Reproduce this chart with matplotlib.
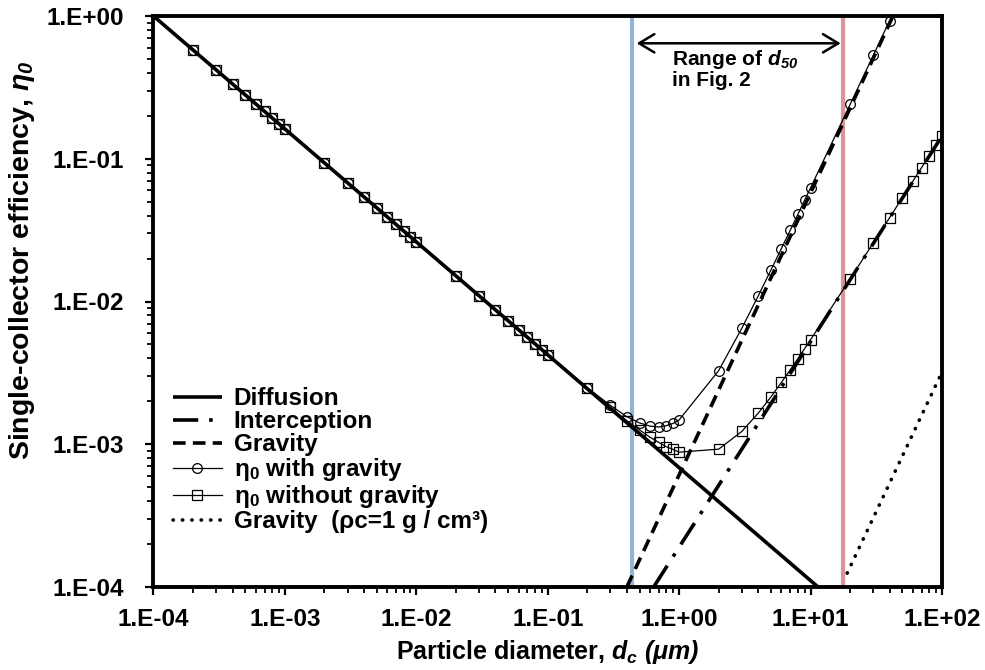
import numpy as np
import matplotlib
matplotlib.use("Agg")
import matplotlib.pyplot as plt
from matplotlib.ticker import FuncFormatter, NullFormatter, FixedLocator


# particle diameters of the eta_0 series [um]
diam = [2e-4, 3e-4, 4e-4, 5e-4, 6e-4, 7e-4, 8e-4, 9e-4,
        1e-3, 2e-3, 3e-3, 4e-3, 5e-3, 6e-3, 7e-3, 8e-3, 9e-3,
        1e-2, 2e-2, 3e-2, 4e-2, 5e-2, 6e-2, 7e-2, 8e-2, 9e-2,
        0.1, 0.2, 0.3, 0.4, 0.5, 0.6, 0.7, 0.8, 0.9,
        1, 2, 3, 4, 5, 6, 7, 8, 9,
        10, 20, 30, 40, 50, 60, 70, 80, 90, 100]

eta_with = [0.578, 0.420, 0.334, 0.280, 0.242, 0.215, 0.193, 0.176,
            0.162, 0.0935, 0.0680, 0.0540, 0.0453, 0.0392, 0.0348, 0.0312, 0.0285,
            0.0262, 0.0151, 0.0110, 0.00874, 0.00733, 0.00634, 0.00563, 0.00505, 0.00461,
            0.00425, 0.00249, 0.00187, 0.00156, 0.00141, 0.00134, 0.00132, 0.00135, 0.00140,
            0.00148, 0.00328, 0.00650, 0.01095, 0.01665, 0.0235, 0.0315, 0.0407, 0.0511,
            0.0626, 0.240, 0.529, 0.929, 1.39]

eta_without = [0.578, 0.420, 0.334, 0.280, 0.242, 0.215, 0.193, 0.176,
               0.162, 0.0935, 0.0680, 0.0540, 0.0453, 0.0392, 0.0348, 0.0312, 0.0285,
               0.0262, 0.0151, 0.0110, 0.00874, 0.00733, 0.00634, 0.00563, 0.00505, 0.00461,
               0.00425, 0.00247, 0.00181, 0.00146, 0.00126, 0.00112, 0.00103, 0.00096, 0.00092,
               0.00088, 0.000924, 0.00123, 0.00165, 0.00215, 0.00271, 0.00332, 0.00397, 0.00467,
               0.00539, 0.0144, 0.0257, 0.0387, 0.0534, 0.0694, 0.0868, 0.1045, 0.124, 0.144]

# straight mechanism lines (end points)
diff_x, diff_y = [1e-4, 11.4], [1.0, 1e-4]
inter_x, inter_y = [0.64, 100], [1e-4, 0.144]
grav_x, grav_y = [0.40, 42.4], [1e-4, 1.0]
grav1_x, grav1_y = [19, 100], [1.25e-4, 3.2e-3]

# range of d50 in Fig. 2
range_lo, range_hi = 0.44, 17.8

x_decades = [1e-4, 1e-3, 1e-2, 1e-1, 1e0, 1e1, 1e2]
y_decades = [1e-4, 1e-3, 1e-2, 1e-1, 1e0]


plt.rcParams["font.family"] = ["Liberation Sans", "DejaVu Sans"]
plt.rcParams["font.weight"] = "bold"
plt.rcParams["axes.labelweight"] = "bold"
plt.rcParams["mathtext.fontset"] = "custom"
plt.rcParams["mathtext.rm"] = "Liberation Sans:bold"
plt.rcParams["mathtext.it"] = "Liberation Sans:italic:bold"
plt.rcParams["mathtext.sf"] = "Liberation Sans:italic:bold"
plt.rcParams["mathtext.bf"] = "Liberation Sans:bold"
plt.rcParams["mathtext.default"] = "rm"

fig = plt.figure(figsize=(9.85, 6.7), dpi=100)
ax = fig.add_axes([0.1558, 0.1239, 0.8005, 0.8522])

ax.axvline(range_lo, color="#95B3D7", lw=3, zorder=1)
ax.axvline(range_hi, color="#D99694", lw=3, zorder=1)

ax.plot(diff_x, diff_y, color="black", lw=2.6, solid_capstyle="butt", label="Diffusion", zorder=3)
ax.plot(inter_x, inter_y, color="black", lw=2.6, dashes=(7, 3, 1, 3), label="Interception", zorder=3)
ax.plot(grav_x, grav_y, color="black", lw=2.6, dashes=(3.5, 2), label="Gravity", zorder=3)
ax.plot(diam[:len(eta_with)], eta_with, color="black", lw=0.9, marker="o", ms=7,
        mfc="none", mec="black", mew=0.9, label="η$_0$ with gravity", zorder=4)
ax.plot(diam, eta_without, color="black", lw=0.9, marker="s", ms=7,
        mfc="none", mec="black", mew=0.9, label="η$_0$ without gravity", zorder=4)
ax.plot(grav1_x, grav1_y, color="black", lw=2.6, linestyle=(0, (0.1, 2.5)),
        dash_capstyle="round", label="Gravity  (ρc=1 g / cm³)", zorder=3)

ax.annotate("", xy=(range_hi / 1.05, 0.644), xytext=(range_lo * 1.08, 0.644),
            arrowprops=dict(arrowstyle="<->,head_length=0.55,head_width=0.33",
                            lw=1.8, color="black", shrinkA=0, shrinkB=0,
                            mutation_scale=20))
ax.text(0.88, 0.595, "Range of $\\mathsf{d}_\\mathsf{50}$\nin Fig. 2", fontsize=15,
        ha="left", va="top", linespacing=1.0)

ax.set_xscale("log")
ax.set_yscale("log")
ax.set_xlim(1e-4, 1e2)
ax.set_ylim(1e-4, 1)

fmt = FuncFormatter(lambda v, p: f"1.E{int(np.round(np.log10(v))):+03d}")
ax.xaxis.set_major_locator(FixedLocator(x_decades))
ax.yaxis.set_major_locator(FixedLocator(y_decades))
ax.xaxis.set_minor_locator(FixedLocator([d * k for d in x_decades[:-1] for k in range(2, 10)]))
ax.yaxis.set_minor_locator(FixedLocator([d * k for d in y_decades[:-1] for k in range(2, 10)]))
for axis in (ax.xaxis, ax.yaxis):
    axis.set_major_formatter(fmt)
    axis.set_minor_formatter(NullFormatter())

ax.tick_params(which="major", direction="out", length=6, width=1.6, labelsize=17.5)
ax.tick_params(which="minor", direction="out", length=4, width=1.3)
ax.tick_params(axis="x", which="major", pad=9)
ax.tick_params(axis="y", which="major", pad=15)
for s in ax.spines.values():
    s.set_linewidth(2.8)

ax.set_xlabel("Particle diameter, $\\mathsf{d}_\\mathsf{c}$ $\\mathsf{(μm)}$", fontsize=18)
ax.set_ylabel("Single-collector efficiency, $\\mathsf{η}_\\mathsf{0}$", fontsize=20.5)
ax.xaxis.set_label_coords(0.5, -0.09)
ax.yaxis.set_label_coords(-0.148, 0.573)

ax.legend(loc="upper left", bbox_to_anchor=(0.0247, 0.35), frameon=False, fontsize=17.5,
          handlelength=2.0, handletextpad=0.5, labelspacing=0.0, borderpad=0,
          borderaxespad=0)

fig.savefig("out.png", dpi=100)
